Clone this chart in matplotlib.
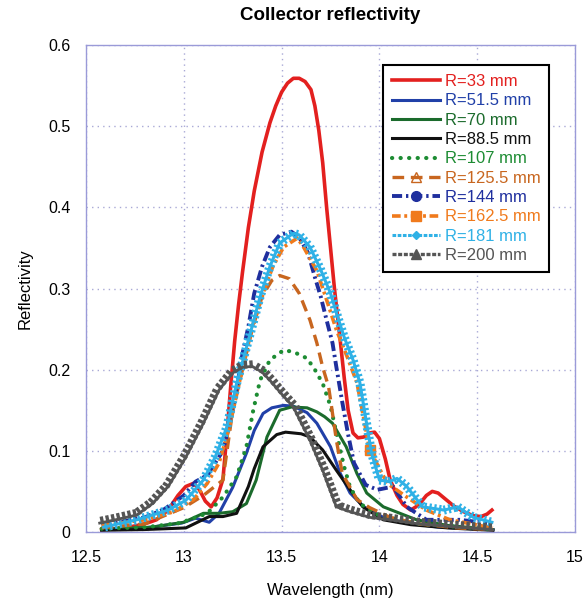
import matplotlib
matplotlib.use("Agg")
from matplotlib import pyplot as plt
from matplotlib import patheffects as pe
from matplotlib.lines import Line2D

plt.rcParams['font.family'] = ['Liberation Sans', 'DejaVu Sans']

# wavelength (nm) / reflectivity, one pair per mirror radius
r33_x = [12.58, 12.7, 12.8, 12.86, 12.92, 12.97, 13.01, 13.05, 13.08, 13.11, 13.14, 13.17, 13.2, 13.22,
         13.24, 13.26, 13.28, 13.30, 13.33, 13.36, 13.40, 13.44, 13.47, 13.50, 13.53, 13.56, 13.59,
         13.62, 13.65, 13.67, 13.69, 13.71, 13.73, 13.75, 13.77, 13.80, 13.82, 13.84, 13.865, 13.89,
         13.92, 13.95, 13.975, 14.0, 14.03, 14.055, 14.09, 14.12, 14.16, 14.2, 14.24, 14.27, 14.3,
         14.34, 14.38, 14.43, 14.48, 14.52, 14.55, 14.575]
r33_y = [0.003, 0.005, 0.01, 0.015, 0.027, 0.045, 0.056, 0.06, 0.052, 0.038, 0.031, 0.042, 0.065, 0.12,
         0.18, 0.235, 0.28, 0.32, 0.375, 0.42, 0.468, 0.504, 0.525, 0.542, 0.553, 0.559, 0.559,
         0.555, 0.545, 0.525, 0.495, 0.455, 0.40, 0.35, 0.30, 0.235, 0.19, 0.15, 0.122, 0.116,
         0.117, 0.122, 0.123, 0.115, 0.09, 0.064, 0.045, 0.034, 0.027, 0.033, 0.045, 0.05, 0.048,
         0.04, 0.032, 0.025, 0.02, 0.019, 0.022, 0.027]

r51_x = [12.58, 12.8, 12.99, 13.06, 13.13, 13.18, 13.25, 13.32, 13.36, 13.405, 13.45, 13.51, 13.56,
         13.63, 13.68, 13.75, 13.80, 13.85, 13.92, 14.02, 14.14, 14.3, 14.58]
r51_y = [0.003, 0.005, 0.011, 0.017, 0.012, 0.023, 0.055, 0.097, 0.125, 0.146, 0.153, 0.156, 0.155,
         0.147, 0.134, 0.105, 0.072, 0.048, 0.031, 0.018, 0.011, 0.006, 0.003]

r70_x = [12.58, 12.84, 13.0, 13.10, 13.18, 13.25, 13.32, 13.37, 13.425, 13.49, 13.55, 13.63, 13.68,
         13.72, 13.76, 13.83, 13.885, 13.935, 14.02, 14.105, 14.19, 14.35, 14.58]
r70_y = [0.003, 0.006, 0.012, 0.023, 0.023, 0.025, 0.035, 0.064, 0.117, 0.150, 0.154, 0.153, 0.148,
         0.142, 0.134, 0.105, 0.072, 0.048, 0.031, 0.023, 0.015, 0.008, 0.003]

r88_x = [12.58, 12.8, 13.01, 13.13, 13.20, 13.27, 13.33, 13.36, 13.405, 13.475, 13.52, 13.6, 13.645,
         13.71, 13.78, 13.85, 13.915, 14.02, 14.16, 14.35, 14.58]
r88_y = [0.002, 0.003, 0.005, 0.019, 0.019, 0.023, 0.056, 0.078, 0.105, 0.12, 0.123, 0.121, 0.117,
         0.101, 0.076, 0.052, 0.031, 0.015, 0.009, 0.005, 0.002]

r107_x = [12.58, 12.81, 12.98, 13.12, 13.20, 13.27, 13.32, 13.355, 13.39, 13.44, 13.51, 13.56, 13.63,
          13.67, 13.71, 13.75, 13.78, 13.82, 13.85, 13.9, 14.0, 14.2, 14.58]
r107_y = [0.004, 0.006, 0.011, 0.023, 0.043, 0.068, 0.105, 0.15, 0.187, 0.212, 0.224, 0.222, 0.214,
          0.2, 0.183, 0.155, 0.122, 0.08, 0.055, 0.035, 0.02, 0.01, 0.003]

r125_x = [12.58, 12.8, 13.0, 13.1, 13.2, 13.25, 13.3, 13.35, 13.4, 13.45, 13.49, 13.54, 13.59, 13.645,
          13.68, 13.71, 13.74, 13.75, 13.78, 13.81, 13.885, 13.95, 14.055, 14.2, 14.4, 14.58]
r125_y = [0.005, 0.01, 0.03, 0.045, 0.064, 0.15, 0.2, 0.25, 0.29, 0.31, 0.316, 0.312, 0.294, 0.261,
          0.233, 0.203, 0.179, 0.163, 0.113, 0.072, 0.04, 0.03, 0.018, 0.01, 0.005, 0.003]

r144_x = [12.58, 12.8, 12.9, 13.0, 13.06, 13.12, 13.2, 13.25, 13.28, 13.30, 13.33, 13.36, 13.40, 13.44,
          13.49, 13.55, 13.59, 13.635, 13.67, 13.70, 13.73, 13.76, 13.78, 13.81, 13.84, 13.87, 13.93,
          13.99, 14.07, 14.14, 14.24, 14.41, 14.55]
r144_y = [0.008, 0.018, 0.028, 0.045, 0.062, 0.07, 0.1, 0.15, 0.191, 0.22, 0.253, 0.294, 0.327, 0.351,
          0.366, 0.37, 0.363, 0.344, 0.314, 0.29, 0.261, 0.233, 0.203, 0.16, 0.12, 0.085, 0.058,
          0.052, 0.056, 0.031, 0.015, 0.015, 0.011]

r162_x = [12.58, 12.8, 12.95, 13.05, 13.12, 13.18, 13.23, 13.29, 13.35, 13.405, 13.455, 13.51, 13.58,
          13.61, 13.68, 13.73, 13.78, 13.835, 13.885, 13.92, 13.95, 14.04, 14.14, 14.24, 14.36, 14.58]
r162_y = [0.008, 0.015, 0.025, 0.04, 0.06, 0.085, 0.126, 0.191, 0.253, 0.294, 0.327, 0.351, 0.362,
          0.352, 0.322, 0.286, 0.249, 0.216, 0.184, 0.14, 0.101, 0.06, 0.043, 0.027, 0.015, 0.005]

r181_x = [12.59, 12.76, 12.92, 13.01, 13.10, 13.16, 13.22, 13.27, 13.34, 13.39, 13.44, 13.49, 13.56,
          13.59, 13.645, 13.70, 13.75, 13.78, 13.82, 13.865, 13.90, 13.93, 13.96, 14.0, 14.05, 14.09,
          14.14, 14.22, 14.33, 14.40, 14.48, 14.575]
r181_y = [0.006, 0.015, 0.027, 0.039, 0.064, 0.092, 0.129, 0.183, 0.245, 0.29, 0.327, 0.356, 0.368,
          0.366, 0.351, 0.323, 0.294, 0.27, 0.24, 0.212, 0.184, 0.14, 0.097, 0.064, 0.062, 0.066,
          0.056, 0.031, 0.027, 0.031, 0.018, 0.012]

r200_x = [12.57, 12.65, 12.76, 12.84, 12.92, 13.01, 13.10, 13.18, 13.25, 13.30, 13.35, 13.40, 13.44,
          13.50, 13.56, 13.645, 13.71, 13.78, 13.85, 13.95, 14.055, 14.2, 14.4, 14.58]
r200_y = [0.011, 0.015, 0.021, 0.035, 0.056, 0.092, 0.134, 0.175, 0.196, 0.203, 0.204, 0.197, 0.187,
          0.17, 0.154, 0.113, 0.076, 0.031, 0.025, 0.018, 0.015, 0.01, 0.006, 0.003]

labels = ['R=33 mm', 'R=51.5 mm', 'R=70 mm', 'R=88.5 mm', 'R=107 mm', 'R=125.5 mm',
          'R=144 mm', 'R=162.5 mm', 'R=181 mm', 'R=200 mm']
xticks = [12.5, 13, 13.5, 14, 14.5, 15]
xtick_labels = ['12.5', '13', '13.5', '14', '14.5', '15']
yticks = [0, 0.1, 0.2, 0.3, 0.4, 0.5, 0.6]
ytick_labels = ['0', '0.1', '0.2', '0.3', '0.4', '0.5', '0.6']

series = [(r33_x, r33_y), (r51_x, r51_y), (r70_x, r70_y), (r88_x, r88_y), (r107_x, r107_y),
          (r125_x, r125_y), (r144_x, r144_y), (r162_x, r162_y), (r181_x, r181_y), (r200_x, r200_y)]

# colour, linestyle, width, legend marker
styles = [
    ('#e3201f', '-', 2.6, None),
    ('#2140a8', '-', 2.2, None),
    ('#1b6b2c', '-', 2.2, None),
    ('#111111', '-', 2.2, None),
    ('#1d8c33', (0, (0.05, 2.0)), 3.0, None),
    ('#c8661f', (0, (3.5, 2.0)), 2.4, '^'),
    ('#1f2f9e', (0, (2.6, 1.0, 0.6, 1.0)), 2.8, 'o'),
    ('#f07a1c', (0, (2.4, 1.0, 0.8, 1.0)), 2.6, 's'),
    ('#2fb1e6', '-', 2.2, 'D'),
    ('#555555', '-', 2.0, '^'),
]

fig = plt.figure(figsize=(5.85, 6.02), dpi=100)
ax = fig.add_axes([0.147, 0.1163, 0.836, 0.8089])

handles = []
for (xs, ys), (col, ls, lw, mk), lab in zip(series, styles, labels):
    effects = None
    if lab == 'R=200 mm':
        # sawtooth of small triangles along the line
        effects = [pe.TickedStroke(spacing=4.0, angle=90, length=0.8, linewidth=2.4),
                   pe.Normal()]
    elif lab == 'R=181 mm':
        effects = [pe.TickedStroke(spacing=3.5, angle=90, length=0.7, linewidth=1.6),
                   pe.TickedStroke(spacing=3.5, angle=-90, length=0.7, linewidth=1.6),
                   pe.Normal()]
    line, = ax.plot(xs, ys, color=col, linestyle=ls, linewidth=lw, solid_joinstyle='round',
                    dash_joinstyle='round',
                    dash_capstyle='round' if lab == 'R=107 mm' else 'butt')
    if effects:
        line.set_path_effects(effects)
    if lab == 'R=162.5 mm':
        ax.plot(xs[20], ys[20], marker='s', color=col, markersize=7, linestyle='none')

    hls = ls
    if lab in ('R=181 mm', 'R=200 mm'):
        hls = (0, (1.2, 0.5))
    handles.append(Line2D([], [], color=col, linestyle=hls, linewidth=lw if lab != 'R=200 mm' else 2.4,
                          marker=mk, markersize=7 if mk != 'D' else 4,
                          markerfacecolor='none' if lab == 'R=125.5 mm' else col,
                          markeredgecolor=col,
                          dash_capstyle='round' if lab == 'R=107 mm' else 'butt'))

ax.set_xlim(12.5, 15)
ax.set_ylim(0, 0.6)
ax.set_xticks(xticks)
ax.set_xticklabels(xtick_labels)
ax.set_yticks(yticks)
ax.set_yticklabels(ytick_labels)
ax.tick_params(length=0, labelsize=11.5)
ax.tick_params(axis='x', pad=13)
ax.tick_params(axis='y', pad=11)
ax.grid(True, color='#a9a9d6', linestyle=(0, (1, 3)), linewidth=1.0)
for s in ax.spines.values():
    s.set_color('#9a9ad8')
    s.set_linewidth(1.0)

ax.set_title('Collector reflectivity', fontsize=13.5, fontweight='bold', pad=18)
ax.set_xlabel('Wavelength (nm)', fontsize=12, labelpad=13)
ax.set_ylabel('Reflectivity', fontsize=12, labelpad=11)

leg = ax.legend(handles, labels, loc='upper left', bbox_to_anchor=(0.607, 0.959),
                borderaxespad=0, fontsize=12, handlelength=2.9, handletextpad=0.25,
                labelspacing=0.26, borderpad=0.55, fancybox=False, framealpha=1,
                edgecolor='black', labelcolor='linecolor')
leg.get_frame().set_linewidth(1.5)

plt.savefig('out.png', dpi=100)
